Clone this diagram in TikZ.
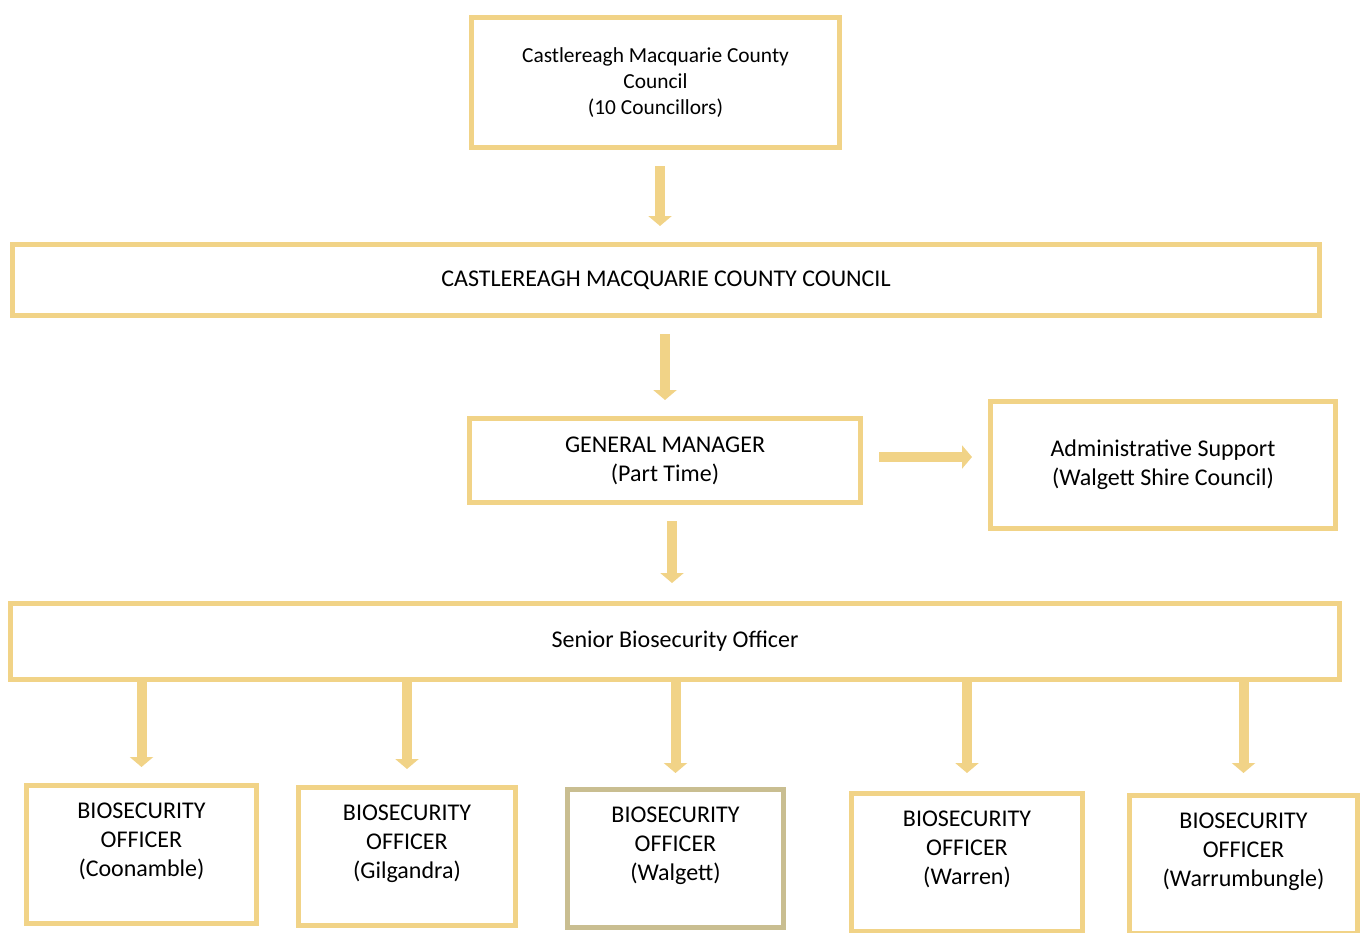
\documentclass[tikz,border=0pt]{standalone}
\usepackage{fontspec}
\setmainfont{Carlito}
\definecolor{cmgold}{RGB}{241,211,135}
\definecolor{cmkhaki}{RGB}{201,190,145}
\usetikzlibrary{arrows.meta,positioning}

\begin{document}
\begin{tikzpicture}[x=0.5pt, y=-0.5pt,
  box/.style={draw=cmgold, line width=2.5pt, fill=white, align=center, inner sep=0pt},
  small/.style={font=\fontsize{10.7}{13}\selectfont},
  mid/.style={font=\fontsize{12}{14.5}\selectfont},
  big/.style={font=\fontsize{12}{14.5}\selectfont},
  arr/.style={draw=cmgold, line width=5pt, -{Triangle[length=5pt, width=11.5pt]},
              shorten <=8pt, shorten >=8pt},
]
\useasboundingbox (0,0) rectangle (1368,932);

% Council and county council
\node[box, small, minimum width=184pt, minimum height=65pt]
      (council) at (655.5,82.5) {Castlereagh Macquarie County\\Council\\(10 Councillors)};
\node[box, mid, minimum width=653.5pt, minimum height=35.5pt]
      (cmcc) at (666,280) {CASTLEREAGH MACQUARIE COUNTY COUNCIL};

% General manager and admin support
\node[box, big, minimum width=195.5pt, minimum height=42pt]
      (gm) at (665,460.5) {GENERAL MANAGER\\(Part Time)};
\node[box, big, minimum width=172.5pt, minimum height=63.5pt]
      (admin) at (1163,465) {Administrative Support\\(Walgett Shire Council)};

% Senior officer
\node[box, mid, minimum width=664.5pt, minimum height=38pt]
      (senior) at (675,641.5) {Senior Biosecurity Officer};

% Biosecurity officers (text sits high in the boxes)
\node[box, minimum width=115pt, minimum height=69pt] (coon) at (141.5,854.5) {};
\node[big, align=center, inner sep=0pt, below=10pt of coon.north]
      (coon-txt) {BIOSECURITY\\OFFICER\\(Coonamble)};
\node[box, minimum width=108.5pt, minimum height=69pt] (gil) at (407,856.5) {};
\node[big, align=center, inner sep=0pt, below=10pt of gil.north]
      (gil-txt) {BIOSECURITY\\OFFICER\\(Gilgandra)};
\node[box, draw=cmkhaki, minimum width=108pt, minimum height=69pt] (wal) at (675.5,858.5) {};
\node[big, align=center, inner sep=0pt, below=10pt of wal.north]
      (wal-txt) {BIOSECURITY\\OFFICER\\(Walgett)};
\node[box, minimum width=115.5pt, minimum height=69pt] (war) at (967,862.5) {};
\node[big, align=center, inner sep=0pt, below=10pt of war.north]
      (war-txt) {BIOSECURITY\\OFFICER\\(Warren)};
\node[box, minimum width=114pt, minimum height=69pt] (wbg) at (1243.5,864.5) {};
\node[big, align=center, inner sep=0pt, below=10pt of wbg.north]
      (wbg-txt) {BIOSECURITY\\OFFICER\\(Warrumbungle)};

% Arrows
\draw[arr] ([xshift=2.25pt]council.south) -- ([xshift=2.25pt]council.south |- cmcc.north);
\draw[arr] (gm.north |- cmcc.south) -- (gm.north);
\draw[arr] ([yshift=1.75pt]gm.east) -- ([yshift=1.75pt]gm.east -| admin.west);
\draw[arr, shorten >=9pt] ([xshift=3.5pt]gm.south) -- ([xshift=3.5pt]gm.south |- senior.north);

\draw[arr, shorten <=0pt] (senior.south -| coon.north) -- (coon.north);
\draw[arr, shorten <=0pt] (senior.south -| gil.north) -- (gil.north);
\draw[arr, shorten <=0pt, shorten >=7pt] (senior.south -| wal.north) -- (wal.north);
\draw[arr, shorten <=0pt, shorten >=9pt] (senior.south -| war.north) -- (war.north);
\draw[arr, shorten <=0pt, shorten >=10pt] (senior.south -| wbg.north) -- (wbg.north);

\end{tikzpicture}
\end{document}
